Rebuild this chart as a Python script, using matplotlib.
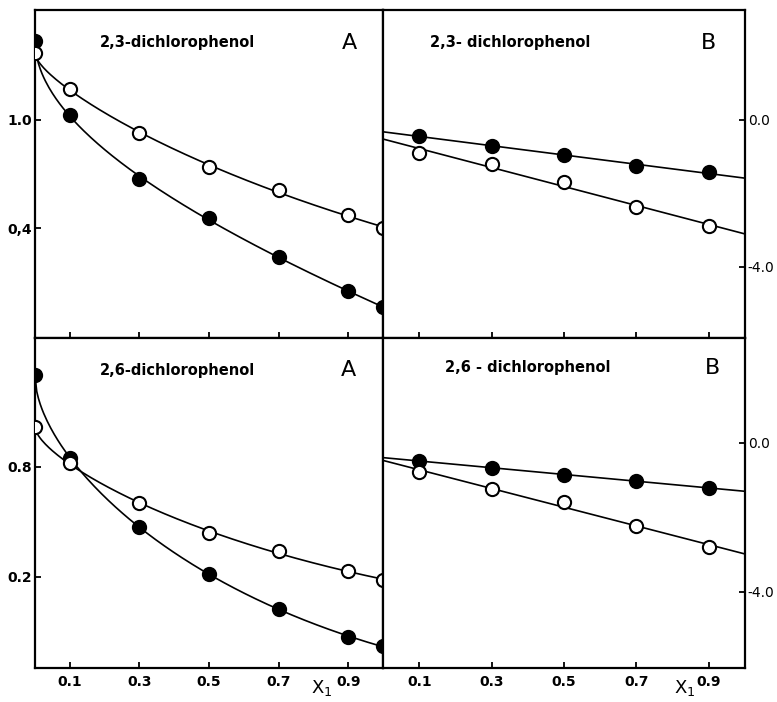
import matplotlib.pyplot as plt
import numpy as np

plt.rcParams['font.family'] = ['DejaVu Sans']

# mole fraction x1
x_a = [0.0, 0.1, 0.3, 0.5, 0.7, 0.9, 1.0]
x_b = [0.1, 0.3, 0.5, 0.7, 0.9]

# 2,3-dichlorophenol
a23_filled = [1.44, 1.03, 0.67, 0.455, 0.24, 0.05, -0.04]
a23_open = [1.37, 1.17, 0.93, 0.74, 0.61, 0.47, 0.40]
b23_filled = [-0.43, -0.70, -0.97, -1.27, -1.41]
b23_open = [-0.90, -1.20, -1.70, -2.38, -2.90]

# 2,6-dichlorophenol
a26_filled = [1.30, 0.85, 0.47, 0.215, 0.02, -0.13, -0.18]
a26_open = [1.02, 0.82, 0.60, 0.44, 0.34, 0.23, 0.18]
b26_filled = [-0.48, -0.67, -0.86, -1.02, -1.21]
b26_open = [-0.78, -1.24, -1.59, -2.23, -2.80]

xticks = [0.1, 0.3, 0.5, 0.7, 0.9]
xticklabels = ['0.1', '0.3', '0.5', '0.7', '0.9']

fig = plt.figure(figsize=(7.77, 7.02), dpi=100)
W, H = 777, 702


def box(x0, y0, x1, y1):
    return [x0 / W, 1 - y1 / H, (x1 - x0) / W, (y1 - y0) / H]


ax_tl = fig.add_axes(box(35, 10, 383, 338))
ax_tr = fig.add_axes(box(383, 10, 745, 338))
ax_bl = fig.add_axes(box(35, 338, 383, 668))
ax_br = fig.add_axes(box(383, 338, 745, 668))

xs = np.linspace(0, 1, 200)


def curve_a(ax, y):
    # smooth fit in sqrt(x)
    c = np.polyfit(np.sqrt(x_a), y, 3)
    ax.plot(xs, np.polyval(c, np.sqrt(xs)), color='black', lw=1.2, zorder=2)


def line_b(ax, y):
    c = np.polyfit(x_b, y, 1)
    ax.plot(xs, np.polyval(c, xs), color='black', lw=1.2, zorder=2)


def pts(ax, x, y, filled):
    ax.plot(x, y, 'o', ms=9.5, mec='black', mew=1.5,
            mfc='black' if filled else 'white', zorder=3)


# panel A, 2,3
curve_a(ax_tl, a23_filled)
curve_a(ax_tl, a23_open)
pts(ax_tl, x_a, a23_filled, True)
pts(ax_tl, x_a, a23_open, False)
ax_tl.set_ylim(-0.21, 1.61)
ax_tl.set_yticks([1.0, 0.4])
ax_tl.set_yticklabels(['1.0', '0,4'])

# panel B, 2,3
line_b(ax_tr, b23_filled)
line_b(ax_tr, b23_open)
pts(ax_tr, x_b, b23_filled, True)
pts(ax_tr, x_b, b23_open, False)
ax_tr.set_ylim(-5.95, 3.0)
ax_tr.set_yticks([0.0, -4.0])
ax_tr.set_yticklabels(['0.0', '-4.0'])

# panel A, 2,6
curve_a(ax_bl, a26_filled)
curve_a(ax_bl, a26_open)
pts(ax_bl, x_a, a26_filled, True)
pts(ax_bl, x_a, a26_open, False)
ax_bl.set_ylim(-0.30, 1.505)
ax_bl.set_yticks([0.8, 0.2])
ax_bl.set_yticklabels(['0.8', '0.2'])

# panel B, 2,6
line_b(ax_br, b26_filled)
line_b(ax_br, b26_open)
pts(ax_br, x_b, b26_filled, True)
pts(ax_br, x_b, b26_open, False)
ax_br.set_ylim(-6.05, 2.82)
ax_br.set_yticks([0.0, -4.0])
ax_br.set_yticklabels(['0.0', '-4.0'])

for ax in (ax_tl, ax_tr, ax_bl, ax_br):
    ax.set_xlim(0, 1.0)
    ax.set_xticks(xticks)
    for s in ax.spines.values():
        s.set_linewidth(1.6)
    ax.tick_params(direction='in', length=4, width=1.3, labelsize=10, pad=2)
    for lab in ax.get_xticklabels() + ax.get_yticklabels():
        lab.set_fontweight('bold')

for ax in (ax_tl, ax_tr):
    ax.set_xticklabels([])
for ax in (ax_bl, ax_br):
    ax.set_xticklabels(xticklabels, fontweight='bold')
    ax.tick_params(axis='x', pad=5)
for ax in (ax_tr, ax_br):
    ax.yaxis.tick_right()

title_kw = dict(fontsize=10.5, fontweight='bold', va='center', ha='left')
ax_tl.text(0.187, 0.90, '2,3-dichlorophenol', transform=ax_tl.transAxes, **title_kw)
ax_tr.text(0.13, 0.90, '2,3- dichlorophenol', transform=ax_tr.transAxes, **title_kw)
ax_bl.text(0.187, 0.903, '2,6-dichlorophenol', transform=ax_bl.transAxes, **title_kw)
ax_br.text(0.17, 0.91, '2,6 - dichlorophenol', transform=ax_br.transAxes, **title_kw)

letter_kw = dict(fontsize=16, va='center', ha='center')
ax_tl.text(0.905, 0.90, 'A', transform=ax_tl.transAxes, **letter_kw)
ax_tr.text(0.90, 0.90, 'B', transform=ax_tr.transAxes, **letter_kw)
ax_bl.text(0.90, 0.903, 'A', transform=ax_bl.transAxes, **letter_kw)
ax_br.text(0.91, 0.91, 'B', transform=ax_br.transAxes, **letter_kw)

fig.text(322 / W, 1 - 688 / H, 'X$_1$', fontsize=13, ha='center', va='center')
fig.text(685 / W, 1 - 688 / H, 'X$_1$', fontsize=13, ha='center', va='center')

fig.savefig('out.png', dpi=100)
